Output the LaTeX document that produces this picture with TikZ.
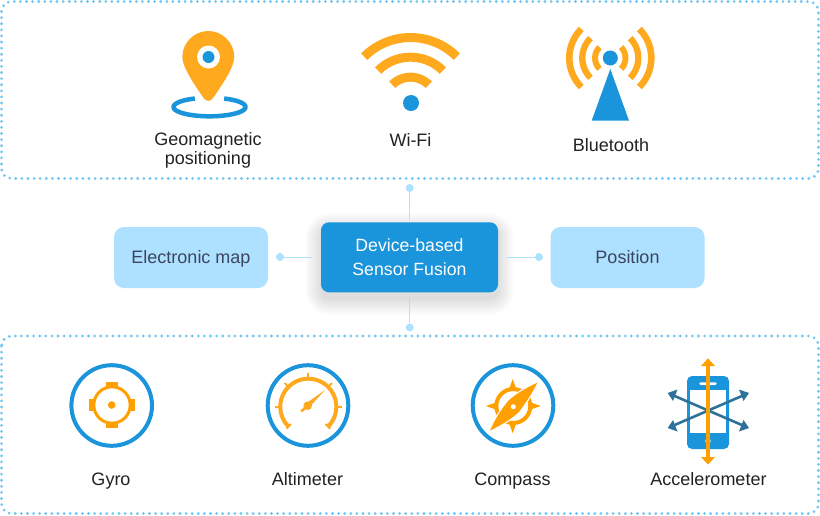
\documentclass[tikz,border=0pt]{standalone}
\usepackage{fontspec}
\setmainfont{Liberation Sans}
\usetikzlibrary{calc}
\definecolor{oran}{HTML}{FFA91F}
\definecolor{oranb}{HTML}{FFA000}
\definecolor{blu}{HTML}{1A94DA}
\definecolor{lblu}{HTML}{AEE1FF}
\definecolor{dotb}{HTML}{72C6F4}
\definecolor{dkb}{HTML}{2E7299}
\definecolor{txt}{HTML}{222222}
\definecolor{navy}{HTML}{3A4560}
\tikzset{
 frame/.style={draw=dotb,line width=3.1pt,rounded corners=10pt,dash pattern=on 0pt off 6.1pt,line cap=round},
 softbox/.style={fill=lblu,rounded corners=10pt,inner sep=0pt,font=\fontsize{18}{22}\selectfont,text=navy,text height=13.6pt,text depth=2pt},
 mainbox/.style={fill=blu,rounded corners=8pt,inner sep=0pt,font=\fontsize{17.7}{23.3}\selectfont,text=white,align=center},
 lab/.style={font=\fontsize{18}{19.3}\selectfont,text=txt,align=center,inner sep=0pt},
 conn/.style={draw=lblu,line width=1pt},
 cdot/.style={circle,fill=lblu,inner sep=0pt,minimum size=8pt},
 ring/.style={draw=blu,line width=4pt},
}
\begin{document}
\begin{tikzpicture}[x=1pt,y=-1pt]
\useasboundingbox (0,0) rectangle (820,515);
\fill[white] (0,0) rectangle (820,515);
% frames
\draw[frame] (1.5,1.5) rectangle (818.5,178.5);
\draw[frame] (1.5,336) rectangle (818.5,513.5);
% shadow
\foreach \e in {16,15,...,0}{
 \fill[black,opacity=0.0075,rounded corners={(8+\e)*1pt}] ({321-\e},{229-\e}) rectangle ({498+\e},{299+\e});
}
% middle nodes
\node[mainbox,minimum width=177pt,minimum height=70pt] (fusion) at (409.5,257.3) {Device-based\\Sensor Fusion};
\node[softbox,minimum width=154pt,minimum height=61pt] (emap) at (191,257.5) {Electronic map};
\node[softbox,minimum width=154pt,minimum height=61pt] (pos) at (627.5,257.5) {Position};
\node[cdot] (dT) at (409.7,188) {};
\node[cdot] (dB) at (409.7,327.5) {};
\node[cdot] (dL) at (280,257) {};
\node[cdot] (dR) at (539,257) {};
\draw[conn,shorten >=2pt] (dT) -- (dT|-fusion.north);
\draw[conn,shorten >=3.5pt] (dB) -- (dB|-fusion.south);
\draw[conn,shorten >=9pt] (dL) -- (dL-|fusion.west);
\draw[conn,shorten >=9pt] (dR) -- (dR-|fusion.east);
% ---- pin
\fill[oran] (234.3,57) .. controls (234.3,43) and (222.7,31) .. (208.3,31)
 .. controls (193.9,31) and (182.3,43) .. (182.3,57)
 .. controls (182.3,67) and (194,84) .. (203.2,97.5)
 .. controls (206,102) and (210.6,102) .. (213.4,97.5)
 .. controls (222.6,84) and (234.3,67) .. (234.3,57) -- cycle;
\fill[white] (208.5,57) circle (11.5);
\fill[blu] (208.5,57) circle (6);
\draw[blu,line width=4.5pt] plot[domain=114:426,samples=60,smooth] ({209.5+36*cos(\x)},{107-9.3*sin(\x)});
% ---- wifi
\fill[blu] (411,103) circle (8);
\foreach \r in {65.5,45.8,25.8}{
 \draw[oran,line width=9pt] plot[domain=45:135,samples=40,smooth] ({410.5+\r*cos(\x)},{103-\r*sin(\x)});
}
% ---- bluetooth
\fill[blu] (610.3,58) circle (7.5);
\fill[blu] (610.3,69) -- (629,120.7) -- (591.7,120.7) -- cycle;
\foreach \r/\w in {41/6.6,28/6.3,15.2/6}{
 \draw[oran,line width=\w pt] plot[domain=-45:45,samples=30,smooth] ({610.3+\r*cos(\x)},{58-\r*sin(\x)});
 \draw[oran,line width=\w pt] plot[domain=135:225,samples=30,smooth] ({610.3+\r*cos(\x)},{58-\r*sin(\x)});
}
% ---- gyro
\draw[ring] (111.7,405.5) circle (40.3);
\draw[oranb,line width=3pt] (112,405) circle (18.2);
\fill[oranb] (106,381.7) rectangle (118,386.7);
\fill[oranb] (106,423.3) rectangle (118,427.9);
\fill[oranb] (89,399) rectangle (93.3,410.7);
\fill[oranb] (130.7,399) rectangle (135,410.7);
\fill[oranb] (111.7,405) circle (3.8);
% ---- altimeter
\draw[ring] (308,405.5) circle (40.3);
\draw[oran,line width=4pt] plot[domain=-45:225,samples=60,smooth] ({308.3+28*cos(\x)},{406.7-28*sin(\x)});
\foreach \a in {0,45,90,135,180}{
 \draw[oran,line width=1.8pt] ({308.3+28*cos(\a)},{406.7-28*sin(\a)}) -- ({308.3+33.5*cos(\a)},{406.7-33.5*sin(\a)});
}
\draw[oran,line width=2pt] ({308.3+24.5*cos(-45)},{406.7-24.5*sin(-45)}) -- ({308.3+31*cos(-45)},{406.7-31*sin(-45)});
\draw[oran,line width=2pt] ({308.3+24.5*cos(225)},{406.7-24.5*sin(225)}) -- ({308.3+31*cos(225)},{406.7-31*sin(225)});
\fill[oran] (325,390) -- (309.5,407) -- (306,403.5) -- cycle;
\fill[oran] (307.7,405.7) circle (4.3);
\draw[oran,line width=2.6pt] (307.7,405.7) -- (301.2,411.4);
% ---- compass
\draw[ring] (513,405.5) circle (40.3);
\draw[oranb,line width=4pt] (513.3,406) circle (17);
\fill[oranb] (512.7,379) -- (517,391) -- (508.4,391) -- cycle;
\fill[oranb] (512.7,433.3) -- (517,421) -- (508.4,421) -- cycle;
\fill[oranb] (486,406) -- (498,401.7) -- (498,410.3) -- cycle;
\fill[oranb] (540.7,406) -- (528.5,401.7) -- (528.5,410.3) -- cycle;
\draw[white,line width=2.5pt,fill=oranb] (537.3,382.7) .. controls (532,394) and (526,402) .. (519,412) .. controls (510,420) and (501,425) .. (490,430.7) .. controls (495,419) and (501,410) .. (508,401) .. controls (517,393) and (526,388) .. (537.3,382.7) -- cycle;
\fill[oranb] (537.3,382.7) .. controls (532,394) and (526,402) .. (519,412) .. controls (510,420) and (501,425) .. (490,430.7) .. controls (495,419) and (501,410) .. (508,401) .. controls (517,393) and (526,388) .. (537.3,382.7) -- cycle;
\fill[white] (513.3,406.7) circle (2.5);
% ---- accelerometer
\fill[blu,rounded corners=5pt] (687,376) rectangle (729,449);
\fill[white] (690,390) rectangle (726,433.3);
\fill[white,rounded corners=1.3pt] (699.3,382.3) rectangle (716.7,385);
\fill[white] (708,441) circle (2.7);
\draw[dkb,line width=2.6pt] (670,394) -- (746.5,427);
\draw[dkb,line width=2.6pt] (670,427) -- (746.5,394);
\fill[dkb] (667.7,393) -- (677.5,389.5) -- (673,401) -- cycle;
\fill[dkb] (749,393) -- (739,389.5) -- (743.5,401) -- cycle;
\fill[dkb] (667.7,428) -- (677.5,431.5) -- (673,420) -- cycle;
\fill[dkb] (749,428) -- (739,431.5) -- (743.5,420) -- cycle;
\draw[oranb,line width=4pt] (708,362) -- (708,461);
\fill[oranb] (708,358.3) -- (715,366) -- (701,366) -- cycle;
\fill[oranb] (708,464.5) -- (715,457) -- (701,457) -- cycle;
% ---- labels
\node[lab] (l1) at (208,150.3) {Geomagnetic\\positioning};
\node[lab,anchor=base] (l2) at (410.5,146) {Wi-Fi};
\node[lab,anchor=base] (l3) at (611,151) {Bluetooth};
\node[lab,anchor=base] (l4) at (111,485.7) {Gyro};
\node[lab,anchor=base] (l5) at (307.5,485.7) {Altimeter};
\node[lab,anchor=base] (l6) at (512.5,485.7) {Compass};
\node[lab,anchor=base] (l7) at (708.5,485.7) {Accelerometer};
\end{tikzpicture}
\end{document}
